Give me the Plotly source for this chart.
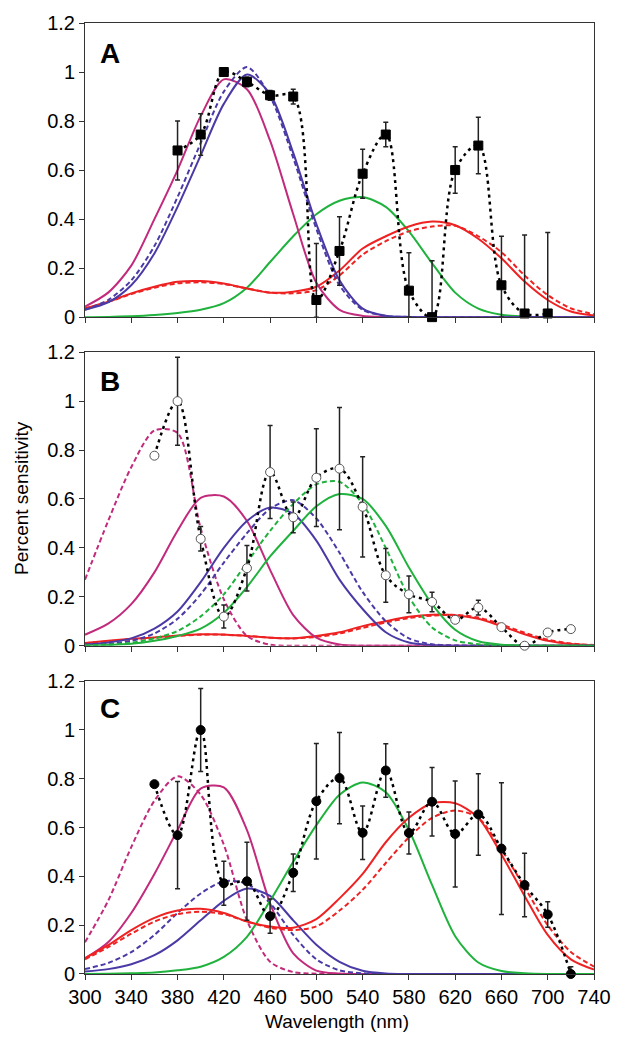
import plotly.graph_objects as go

# Wavelength grid for the template curves (nm)
WL = [300, 320, 340, 360, 380, 400, 420, 440, 460, 480, 500, 520,
      540, 560, 580, 600, 620, 640, 660, 680, 700, 720, 740]

# ---------------- Panel A ----------------
A_mag = [0.043, 0.10, 0.21, 0.40, 0.60, 0.82, 0.97, 0.93, 0.72, 0.42, 0.14, 0.03,
         0.005, 0.001, 0, 0, 0, 0, 0, 0, 0, 0, 0]
A_blue = [0.03, 0.06, 0.13, 0.26, 0.45, 0.66, 0.87, 0.99, 0.91, 0.67, 0.38, 0.15,
          0.035, 0.006, 0.001, 0, 0, 0, 0, 0, 0, 0, 0]
A_blue_d = [0.03, 0.07, 0.15, 0.29, 0.49, 0.71, 0.92, 1.02, 0.90, 0.65, 0.36, 0.13,
            0.03, 0.005, 0.001, 0, 0, 0, 0, 0, 0, 0, 0]
A_green = [0, 0.001, 0.004, 0.009, 0.017, 0.03, 0.057, 0.12, 0.225, 0.33, 0.42, 0.475,
           0.49, 0.45, 0.35, 0.22, 0.10, 0.035, 0.01, 0.002, 0, 0, 0]
A_red = [0.036, 0.063, 0.097, 0.124, 0.144, 0.147, 0.137, 0.117, 0.10, 0.104, 0.124, 0.19,
         0.28, 0.33, 0.37, 0.39, 0.375, 0.32, 0.24, 0.145, 0.07, 0.023, 0.007]
A_red_d = [0.035, 0.062, 0.094, 0.12, 0.138, 0.142, 0.135, 0.117, 0.10, 0.097, 0.11, 0.17,
           0.255, 0.31, 0.35, 0.37, 0.373, 0.33, 0.265, 0.17, 0.09, 0.036, 0.012]
A_x = [380, 400, 420, 440, 460, 480, 500, 520, 540, 560, 580, 600, 620, 640, 660, 680, 700]
A_y = [0.68, 0.745, 1.0, 0.96, 0.905, 0.90, 0.07, 0.27, 0.585, 0.745, 0.108, 0.0,
       0.60, 0.70, 0.13, 0.015, 0.015]
A_err = [0.12, 0.085, 0.01, 0.02, 0.02, 0.03, 0.23, 0.14, 0.10, 0.05, 0.155, 0.23,
         0.095, 0.115, 0.20, 0.32, 0.33]

# ---------------- Panel B ----------------
B_mag_d = [0.27, 0.51, 0.73, 0.88, 0.87, 0.48, 0.19, 0.04, 0.004, 0, 0, 0,
           0, 0, 0, 0, 0, 0, 0, 0, 0, 0, 0]
B_mag = [0.045, 0.09, 0.17, 0.30, 0.47, 0.605, 0.61, 0.51, 0.31, 0.125, 0.033, 0.005,
         0, 0, 0, 0, 0, 0, 0, 0, 0, 0, 0]
B_blue = [0.005, 0.013, 0.03, 0.07, 0.14, 0.26, 0.40, 0.51, 0.565, 0.54, 0.43, 0.27,
          0.15, 0.055, 0.013, 0.003, 0, 0, 0, 0, 0, 0, 0]
B_blue_d = [0.003, 0.008, 0.02, 0.05, 0.11, 0.21, 0.34, 0.46, 0.56, 0.595, 0.52, 0.38,
            0.22, 0.10, 0.03, 0.006, 0.001, 0, 0, 0, 0, 0, 0]
B_green_d = [0.001, 0.005, 0.012, 0.03, 0.06, 0.12, 0.21, 0.34, 0.47, 0.58, 0.66, 0.67,
             0.58, 0.40, 0.20, 0.075, 0.022, 0.006, 0.001, 0, 0, 0, 0]
B_green = [0, 0.003, 0.008, 0.02, 0.04, 0.07, 0.135, 0.24, 0.365, 0.47, 0.57, 0.62,
           0.60, 0.49, 0.32, 0.17, 0.065, 0.018, 0.004, 0.001, 0, 0, 0]
B_red = [0.011, 0.02, 0.028, 0.034, 0.042, 0.047, 0.046, 0.04, 0.033, 0.031, 0.04, 0.055,
         0.08, 0.10, 0.118, 0.127, 0.125, 0.11, 0.08, 0.047, 0.02, 0.007, 0.002]
B_red_d = [0.01, 0.018, 0.026, 0.032, 0.04, 0.045, 0.045, 0.04, 0.033, 0.03, 0.036, 0.05,
           0.073, 0.095, 0.113, 0.123, 0.126, 0.115, 0.087, 0.053, 0.025, 0.009, 0.003]
B_x = [360, 380, 400, 420, 440, 460, 480, 500, 520, 540, 560, 580, 600, 620, 640,
       660, 680, 700, 720]
B_y = [0.777, 1.0, 0.437, 0.119, 0.317, 0.71, 0.525, 0.687, 0.724, 0.568, 0.288, 0.21,
       0.179, 0.106, 0.156, 0.076, 0.0, 0.054, 0.068]
B_err = [0, 0.18, 0.05, 0.047, 0.093, 0.19, 0.063, 0.2, 0.25, 0.205, 0.11, 0.075,
         0.04, 0.01, 0.03, 0, 0, 0, 0]

# ---------------- Panel C ----------------
C_mag_d = [0.13, 0.30, 0.52, 0.71, 0.81, 0.735, 0.53, 0.22, 0.05, 0.008, 0.001, 0,
           0, 0, 0, 0, 0, 0, 0, 0, 0, 0, 0]
C_mag = [0.064, 0.13, 0.25, 0.41, 0.59, 0.76, 0.765, 0.59, 0.29, 0.085, 0.014, 0.002,
         0, 0, 0, 0, 0, 0, 0, 0, 0, 0, 0]
C_blue_d = [0.02, 0.045, 0.09, 0.16, 0.25, 0.33, 0.38, 0.37, 0.29, 0.16, 0.06, 0.015,
            0.003, 0, 0, 0, 0, 0, 0, 0, 0, 0, 0]
C_blue = [0.01, 0.02, 0.04, 0.077, 0.138, 0.22, 0.30, 0.35, 0.32, 0.22, 0.12, 0.05,
          0.013, 0.002, 0, 0, 0, 0, 0, 0, 0, 0, 0]
C_green = [0, 0.001, 0.003, 0.006, 0.015, 0.03, 0.07, 0.152, 0.30, 0.46, 0.61, 0.735,
           0.785, 0.745, 0.59, 0.365, 0.155, 0.047, 0.012, 0.003, 0, 0, 0]
C_red = [0.065, 0.118, 0.18, 0.23, 0.26, 0.267, 0.25, 0.215, 0.195, 0.19, 0.225, 0.31,
         0.41, 0.54, 0.64, 0.70, 0.70, 0.64, 0.49, 0.32, 0.16, 0.06, 0.018]
C_red_d = [0.06, 0.11, 0.165, 0.215, 0.245, 0.255, 0.245, 0.215, 0.19, 0.18, 0.195, 0.26,
           0.345, 0.455, 0.56, 0.64, 0.67, 0.64, 0.51, 0.355, 0.20, 0.09, 0.03]
C_x = [360, 380, 400, 420, 440, 460, 480, 500, 520, 540, 560, 580, 600, 620, 640,
       660, 680, 700, 720]
C_y = [0.778, 0.569, 1.0, 0.372, 0.38, 0.237, 0.415, 0.708, 0.803, 0.579, 0.834, 0.578,
       0.706, 0.574, 0.654, 0.514, 0.365, 0.244, 0.0]
C_err = [0, 0.22, 0.17, 0.09, 0.16, 0.07, 0.077, 0.237, 0.187, 0.11, 0.11, 0.086,
         0.14, 0.217, 0.167, 0.27, 0.13, 0.052, 0.03]

X_TICKS = [300, 340, 380, 420, 460, 500, 540, 580, 620, 660, 700, 740]
Y_TICKS = [0, 0.2, 0.4, 0.6, 0.8, 1.0, 1.2]
PANEL_LABELS = ["A", "B", "C"]

MAG = "#c22a7c"
BLUE = "#4a3aa6"
GREEN = "#1fb23c"
RED = "#ee2222"
CDASH = "5px,3px"
FONT = "Liberation Sans, Arial, sans-serif"

fig = go.Figure()


def curve(y, color, dashed, ax):
    fig.add_trace(go.Scatter(
        x=WL, y=y, mode="lines", xaxis="x" + ax, yaxis="y" + ax,
        line=dict(color=color, width=2, dash=CDASH if dashed else "solid",
                  shape="spline", smoothing=0.8),
        showlegend=False, hoverinfo="skip"))


def data(xs, ys, errs, ax, symbol, fill, outline):
    minus = [min(e, v) for e, v in zip(errs, ys)]
    fig.add_trace(go.Scatter(
        x=xs, y=ys, mode="lines", xaxis="x" + ax, yaxis="y" + ax,
        line=dict(color="black", width=2.5, dash="3px,4px", shape="spline", smoothing=1.0),
        showlegend=False, hoverinfo="skip"))
    fig.add_trace(go.Scatter(
        x=xs, y=ys, mode="markers", xaxis="x" + ax, yaxis="y" + ax, cliponaxis=False,
        marker=dict(symbol=symbol, size=9, color=fill,
                    line=dict(color=outline, width=1)),
        error_y=dict(type="data", symmetric=False, array=errs, arrayminus=minus,
                     color="#222222", thickness=1.5, width=2.5),
        showlegend=False))


# Panel A (axis suffix "")
for y, c, d in [(A_green, GREEN, False), (A_red, RED, False), (A_red_d, RED, True),
                (A_mag, MAG, False), (A_blue, BLUE, False), (A_blue_d, BLUE, True)]:
    curve(y, c, d, "")
data(A_x, A_y, A_err, "", "square", "black", "black")

# Panel B
for y, c, d in [(B_red, RED, False), (B_red_d, RED, True), (B_mag_d, MAG, True),
                (B_mag, MAG, False), (B_blue, BLUE, False), (B_blue_d, BLUE, True),
                (B_green_d, GREEN, True), (B_green, GREEN, False)]:
    curve(y, c, d, "2")
data(B_x, B_y, B_err, "2", "circle", "white", "#555555")

# Panel C
for y, c, d in [(C_mag_d, MAG, True), (C_mag, MAG, False), (C_blue_d, BLUE, True),
                (C_blue, BLUE, False), (C_green, GREEN, False), (C_red, RED, False),
                (C_red_d, RED, True)]:
    curve(y, c, d, "3")
data(C_x, C_y, C_err, "3", "circle", "black", "black")

domains = [[0.6907, 1.0], [0.3452, 0.6538], [0.0, 0.3079]]
axis_common = dict(showline=True, mirror=True, linecolor="#333333", linewidth=1,
                   ticks="outside", ticklen=5, tickcolor="#333333", showgrid=False,
                   zeroline=False, tickfont=dict(size=20, color="black", family=FONT))

layout = dict(width=623, height=1038, margin=dict(l=85, r=18, t=16, b=64),
              plot_bgcolor="white", paper_bgcolor="white",
              font=dict(family=FONT, color="black"))
names = ["", "2", "3"]
for i, n in enumerate(names):
    layout["xaxis" + n] = dict(axis_common, range=[300, 740], tickvals=X_TICKS,
                               showticklabels=(i == 2), anchor="y" + n, domain=[0, 1])
    layout["yaxis" + n] = dict(axis_common, range=[0, 1.2], tickvals=Y_TICKS,
                               ticktext=["0", "0.2", "0.4", "0.6", "0.8", "1", "1.2"],
                               anchor="x" + n, domain=domains[i])
fig.update_layout(**layout)

annotations = []
label_y = [0.9676, 0.6232, 0.2787]
for lab, ly in zip(PANEL_LABELS, label_y):
    annotations.append(dict(text="<b>" + lab + "</b>", x=0.05, y=ly, xref="paper",
                            yref="paper", showarrow=False, xanchor="center",
                            yanchor="middle",
                            font=dict(size=28, color="black", family=FONT)))
annotations.append(dict(text="Percent sensitivity", x=-0.126, y=0.5005, xref="paper",
                        yref="paper", showarrow=False, textangle=-90,
                        xanchor="center", yanchor="middle",
                        font=dict(size=19, color="black", family=FONT)))
annotations.append(dict(text="Wavelength (nm)", x=0.496, y=-0.0501, xref="paper",
                        yref="paper", showarrow=False, xanchor="center",
                        yanchor="middle",
                        font=dict(size=19, color="black", family=FONT)))
fig.update_layout(annotations=annotations)

fig.write_html("out.html")
